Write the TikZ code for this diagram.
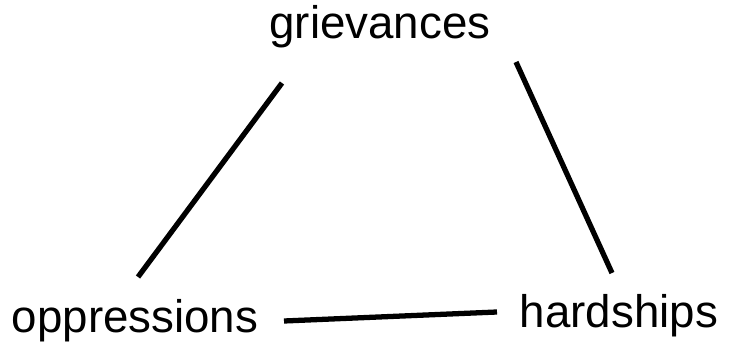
\documentclass[tikz,border=0pt]{standalone}
\usepackage{fontspec}
\setmainfont{Liberation Sans}
\begin{document}
\begin{tikzpicture}[x=0.02cm, y=-0.02cm,
    term/.style={font=\fontsize{26}{30}\selectfont, anchor=base, inner sep=0pt},
    link/.style={line width=3pt}]

  \useasboundingbox (0,0) rectangle (731,344);

  \node[term] (griev) at (380,39) {grievances};
  \node[term] (oppr)  at (135,333) {oppressions};
  \node[term] (hard)  at (619,328) {hardships};

  % line ends beside the words
  \coordinate (griev-sw) at (282,83);
  \coordinate (griev-se) at (516,62);
  \coordinate (oppr-n)   at (138,277);
  \coordinate (oppr-e)   at (284,321);
  \coordinate (hard-n)   at (612,273);
  \coordinate (hard-w)   at (497,312);

  \draw[link] (griev-sw) -- (oppr-n);
  \draw[link] (griev-se) -- (hard-n);
  \draw[link] (oppr-e) -- (hard-w);
\end{tikzpicture}
\end{document}
